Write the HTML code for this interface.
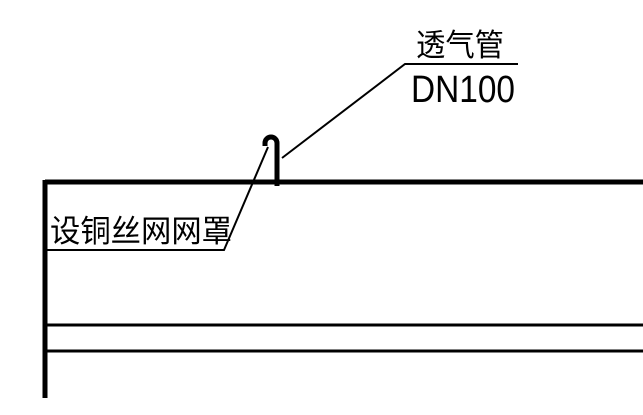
<!DOCTYPE html>
<html><head><meta charset="utf-8"><style>
html,body{margin:0;padding:0;background:#fff;width:643px;height:415px;overflow:hidden}
svg{display:block}
text{font-family:"Liberation Sans","Noto Sans CJK SC",sans-serif;fill:#000}
</style></head><body>
<svg width="643" height="415" viewBox="0 0 643 415">
<line x1="45" y1="182" x2="643" y2="182" stroke="#000" stroke-width="5"/>
<line x1="45" y1="180" x2="45" y2="398" stroke="#000" stroke-width="5"/>
<line x1="45" y1="325" x2="643" y2="325" stroke="#000" stroke-width="3"/>
<line x1="45" y1="351" x2="643" y2="351" stroke="#000" stroke-width="3"/>
<path d="M277 186 L277 143 A6 6 0 0 0 265 143 L265 146" fill="none" stroke="#000" stroke-width="5"/>
<polyline points="282,158 405,64 518,64" fill="none" stroke="#000" stroke-width="2"/>
<polyline points="268,147 224,250 47,250" fill="none" stroke="#000" stroke-width="2"/>
<text x="460" y="56" font-size="31" text-anchor="middle" textLength="88" lengthAdjust="spacingAndGlyphs">透气管</text>
<text x="463" y="102" font-size="38" text-anchor="middle" textLength="104" lengthAdjust="spacingAndGlyphs">DN100</text>
<text x="50" y="242" font-size="31" textLength="182" lengthAdjust="spacingAndGlyphs">设铜丝网网罩</text>
</svg>
</body></html>
